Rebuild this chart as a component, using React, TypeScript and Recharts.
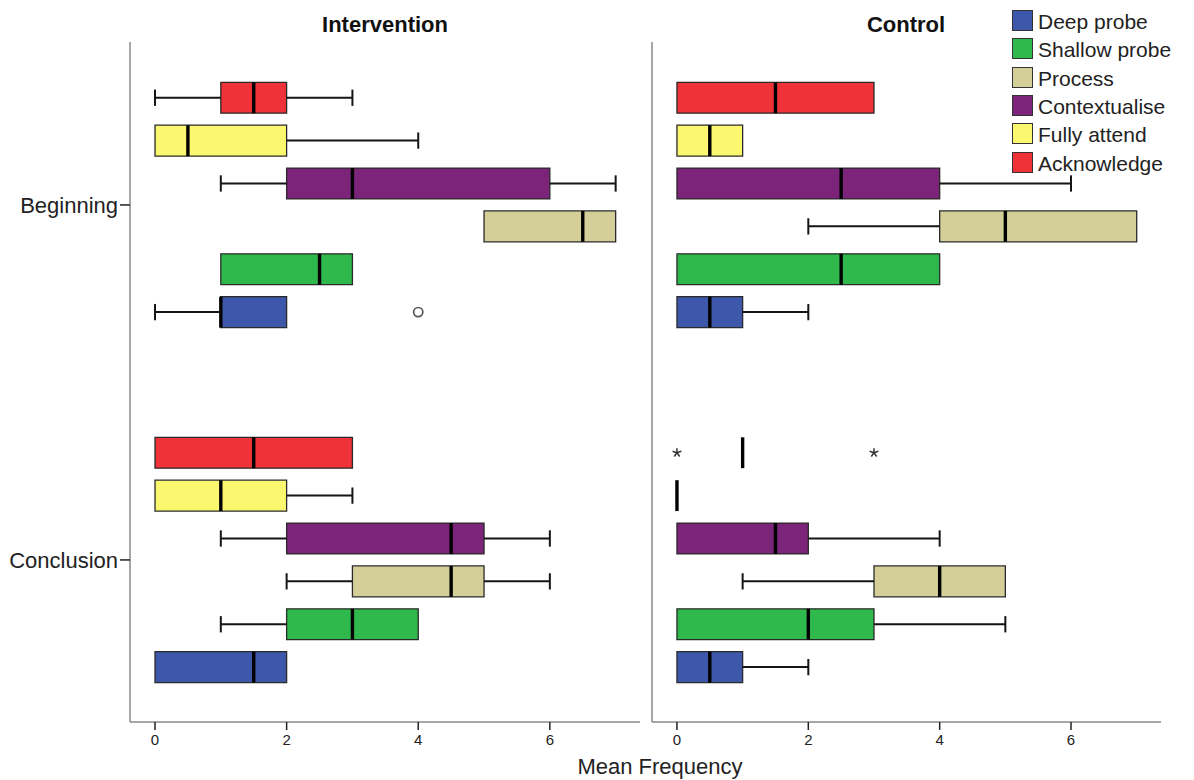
import React from 'react';
import { ComposedChart, XAxis, YAxis, Scatter, ReferenceArea, ReferenceLine } from 'recharts';

// Question codes, listed in legend order (top to bottom)
const codes = ['Deep probe', 'Shallow probe', 'Process', 'Contextualise', 'Fully attend', 'Acknowledge'];
const codeColors = ['#3d57aa', '#2fb84b', '#d4cf98', '#7b2479', '#fbf86f', '#ee3237'];
const stages = ['Beginning', 'Conclusion'];
const xTicks = [0, 2, 4, 6];

// Five-number summaries [min, q1, median, q3, max], one row per code (legend order)
const interventionBeginning = [
  [0, 1, 1, 2, 2],
  [1, 1, 2.5, 3, 3],
  [5, 5, 6.5, 7, 7],
  [1, 2, 3, 6, 7],
  [0, 0, 0.5, 2, 4],
  [0, 1, 1.5, 2, 3],
];
const interventionConclusion = [
  [0, 0, 1.5, 2, 2],
  [1, 2, 3, 4, 4],
  [2, 3, 4.5, 5, 6],
  [1, 2, 4.5, 5, 6],
  [0, 0, 1, 2, 3],
  [0, 0, 1.5, 3, 3],
];
const controlBeginning = [
  [0, 0, 0.5, 1, 2],
  [0, 0, 2.5, 4, 4],
  [2, 4, 5, 7, 7],
  [0, 0, 2.5, 4, 6],
  [0, 0, 0.5, 1, 1],
  [0, 0, 1.5, 3, 3],
];
const controlConclusion = [
  [0, 0, 0.5, 1, 2],
  [0, 0, 2, 3, 5],
  [1, 3, 4, 5, 5],
  [0, 0, 1.5, 2, 4],
  [0, 0, 0, 0, 0],
  [1, 1, 1, 1, 1],
];

// Points beyond the whiskers: outliers (circles) and extremes (stars)
const interventionOutliers = [{ stage: 'Beginning', code: 'Deep probe', value: 4 }];
const interventionExtremes: { stage: string; code: string; value: number }[] = [];
const controlOutliers: { stage: string; code: string; value: number }[] = [];
const controlExtremes = [
  { stage: 'Conclusion', code: 'Acknowledge', value: 0 },
  { stage: 'Conclusion', code: 'Acknowledge', value: 3 },
];

// Vertical layout: each box takes one slot; stages are separated by a gap
const STAGE_OFFSET = [0, 8.28];
const Y_DOMAIN: [number, number] = [-1.3, 14.56];
const X_DOMAIN: [number, number] = [-0.38, 7.37];
const BOX_HALF = 0.36;
const CAP_HALF = 0.19;

const FONT = '"Liberation Sans", Arial, Helvetica, sans-serif';
const AXIS_GRAY = '#8a8a8a';
const INK = '#151515';

const slotOf = (stage: string, code: string) =>
  STAGE_OFFSET[stages.indexOf(stage)] + (codes.length - 1 - codes.indexOf(code));

const stageCenter = (si: number) => STAGE_OFFSET[si] + (codes.length - 1) / 2;

const CircleMark = (p: any) => (
  <circle cx={p.cx} cy={p.cy} r={4.6} fill="#fff" stroke="#555" strokeWidth={1.7} />
);

const StarMark = (p: any) => {
  const r = 4.6;
  const arms = [0, 1, 2, 3, 4].map((k) => {
    const a = -Math.PI / 2 + (k * 2 * Math.PI) / 5;
    return (
      <line
        key={k}
        x1={p.cx}
        y1={p.cy}
        x2={p.cx + r * Math.cos(a)}
        y2={p.cy + r * Math.sin(a)}
        stroke="#333"
        strokeWidth={1.5}
      />
    );
  });
  return <g>{arms}</g>;
};

type Outlier = { stage: string; code: string; value: number };

type PanelProps = {
  summaries: number[][][];
  outliers: Outlier[];
  extremes: Outlier[];
  width: number;
  yAxisWidth: number;
  rightMargin: number;
  showStageLabels: boolean;
};

function Panel({ summaries, outliers, extremes, width, yAxisWidth, rightMargin, showStageLabels }: PanelProps) {
  const whiskers: React.ReactNode[] = [];
  const boxes: React.ReactNode[] = [];
  const medians: React.ReactNode[] = [];

  stages.forEach((stage, si) => {
    summaries[si].forEach(([mn, q1, med, q3, mx], ci) => {
      const y = slotOf(stage, codes[ci]);
      const key = `${si}-${ci}`;
      if (mn < q1) {
        whiskers.push(
          <ReferenceLine key={`wl${key}`} segment={[{ x: mn, y }, { x: q1, y }]} stroke={INK} strokeWidth={2} />,
          <ReferenceLine key={`cl${key}`} segment={[{ x: mn, y: y - CAP_HALF }, { x: mn, y: y + CAP_HALF }]} stroke={INK} strokeWidth={2} />
        );
      }
      if (mx > q3) {
        whiskers.push(
          <ReferenceLine key={`wr${key}`} segment={[{ x: q3, y }, { x: mx, y }]} stroke={INK} strokeWidth={2} />,
          <ReferenceLine key={`cr${key}`} segment={[{ x: mx, y: y - CAP_HALF }, { x: mx, y: y + CAP_HALF }]} stroke={INK} strokeWidth={2} />
        );
      }
      if (q3 > q1) {
        boxes.push(
          <ReferenceArea
            key={`b${key}`}
            x1={q1}
            x2={q3}
            y1={y - BOX_HALF}
            y2={y + BOX_HALF}
            fill={codeColors[ci]}
            fillOpacity={1}
            stroke="#2a2a2a"
            strokeWidth={1.3}
          />
        );
      }
      medians.push(
        <ReferenceLine
          key={`m${key}`}
          segment={[{ x: med, y: y - BOX_HALF }, { x: med, y: y + BOX_HALF }]}
          stroke="#000"
          strokeWidth={3.4}
        />
      );
    });
  });

  const outlierPts = outliers.map((o) => ({ x: o.value, y: slotOf(o.stage, o.code) }));
  const extremePts = extremes.map((o) => ({ x: o.value, y: slotOf(o.stage, o.code) }));
  const stageTicks = stages.map((_, si) => stageCenter(si));

  return (
    <ComposedChart width={width} height={780} margin={{ top: 42, right: rightMargin, bottom: 0, left: 0 }}>
      <XAxis
        type="number"
        dataKey="x"
        domain={X_DOMAIN}
        allowDataOverflow
        ticks={xTicks}
        interval={0}
        height={58}
        tickSize={8}
        tickMargin={4}
        axisLine={{ stroke: AXIS_GRAY, strokeWidth: 1.5 }}
        tickLine={{ stroke: '#222', strokeWidth: 1.5 }}
        tick={{ fontSize: 15, fill: '#222', fontFamily: FONT }}
      />
      <YAxis
        type="number"
        dataKey="y"
        domain={Y_DOMAIN}
        allowDataOverflow
        reversed
        width={yAxisWidth}
        ticks={showStageLabels ? stageTicks : []}
        interval={0}
        tickSize={showStageLabels ? 10 : 0}
        tickMargin={2}
        tickFormatter={(v: number) => {
          const si = stageTicks.findIndex((t) => Math.abs(t - v) < 1e-6);
          return si >= 0 ? stages[si] : '';
        }}
        axisLine={{ stroke: AXIS_GRAY, strokeWidth: 1.5 }}
        tickLine={showStageLabels ? { stroke: '#222', strokeWidth: 1.5 } : false}
        tick={showStageLabels ? { fontSize: 22, fill: '#222', fontFamily: FONT } : false}
      />
      {whiskers}
      {boxes}
      {medians}
      <Scatter data={outlierPts} shape={CircleMark} isAnimationActive={false} />
      <Scatter data={extremePts} shape={StarMark} isAnimationActive={false} />
    </ComposedChart>
  );
}

const textBase: React.CSSProperties = {
  position: 'absolute',
  fontFamily: FONT,
  color: '#111',
  lineHeight: 1,
  whiteSpace: 'nowrap',
};

export default function App() {
  return (
    <div style={{ position: 'absolute', left: 0, top: 0, width: 1194, height: 780, background: '#fff', overflow: 'hidden' }}>
      <div style={{ position: 'absolute', left: 0, top: 0 }}>
        <Panel
          summaries={[interventionBeginning, interventionConclusion]}
          outliers={interventionOutliers}
          extremes={interventionExtremes}
          width={645}
          yAxisWidth={130}
          rightMargin={5}
          showStageLabels
        />
      </div>
      <div style={{ position: 'absolute', left: 640, top: 0 }}>
        <Panel
          summaries={[controlBeginning, controlConclusion]}
          outliers={controlOutliers}
          extremes={controlExtremes}
          width={530}
          yAxisWidth={12}
          rightMargin={9}
          showStageLabels={false}
        />
      </div>

      <div style={{ ...textBase, left: 385, top: 14, fontSize: 22, fontWeight: 700, transform: 'translateX(-50%)' }}>
        Intervention
      </div>
      <div style={{ ...textBase, left: 906, top: 14, fontSize: 22, fontWeight: 700, transform: 'translateX(-50%)' }}>
        Control
      </div>
      <div style={{ ...textBase, left: 660, top: 756, fontSize: 22, color: '#222', transform: 'translateX(-50%)' }}>
        Mean Frequency
      </div>

      {codes.map((c, i) => (
        <div key={c} style={{ position: 'absolute', left: 1012, top: 10 + i * 28.33, height: 21, display: 'flex', alignItems: 'center' }}>
          <div style={{ width: 19, height: 19, background: codeColors[i], border: '1px solid #333' }} />
          <div style={{ ...textBase, position: 'static', marginLeft: 5, fontSize: 21, color: '#222', paddingTop: 2 }}>{c}</div>
        </div>
      ))}
    </div>
  );
}
